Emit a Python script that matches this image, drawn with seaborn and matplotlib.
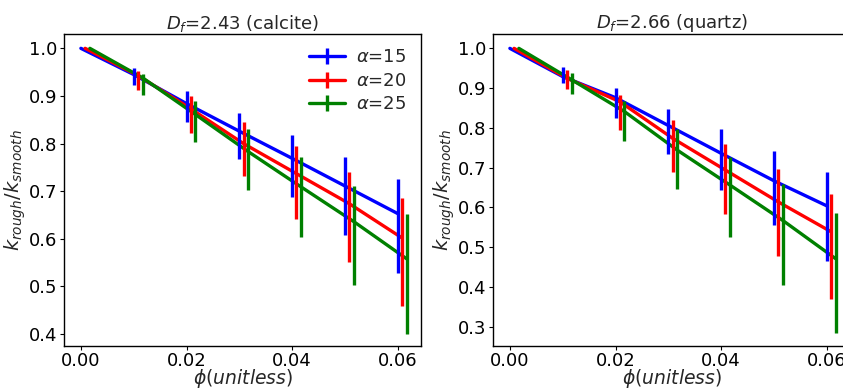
import numpy as np
import pandas as pd
import matplotlib
matplotlib.use("Agg")
import matplotlib.pyplot as plt
import seaborn as sns
from matplotlib.lines import Line2D

sns.set_style("ticks")
plt.rcParams['font.family'] = ['DejaVu Sans']
plt.rcParams['mathtext.fontset'] = 'dejavusans'

phi = [0.0, 0.01, 0.02, 0.03, 0.04, 0.05, 0.06]
alphas = [15, 20, 25]
offsets = [0.0, 0.0008, 0.0017]
colors = ['#0000ff', '#ff0000', '#008000']

# calcite (D_f = 2.43)
calc_line = {
    15: [1.0, 0.945, 0.884, 0.826, 0.769, 0.711, 0.653],
    20: [1.0, 0.943, 0.873, 0.800, 0.737, 0.674, 0.602],
    25: [1.0, 0.938, 0.861, 0.783, 0.709, 0.636, 0.558],
}
calc_hi = {
    15: [1.0, 0.958, 0.911, 0.865, 0.819, 0.772, 0.725],
    20: [1.0, 0.952, 0.900, 0.846, 0.794, 0.740, 0.686],
    25: [1.0, 0.946, 0.889, 0.831, 0.771, 0.711, 0.653],
}
calc_lo = {
    15: [1.0, 0.924, 0.845, 0.767, 0.687, 0.609, 0.529],
    20: [1.0, 0.912, 0.823, 0.732, 0.642, 0.552, 0.460],
    25: [1.0, 0.903, 0.804, 0.703, 0.603, 0.503, 0.401],
}

# quartz (D_f = 2.66)
quar_line = {
    15: [1.0, 0.929, 0.876, 0.806, 0.736, 0.667, 0.604],
    20: [1.0, 0.925, 0.866, 0.774, 0.694, 0.614, 0.539],
    25: [1.0, 0.921, 0.841, 0.744, 0.656, 0.567, 0.471],
}
quar_hi = {
    15: [1.0, 0.953, 0.901, 0.848, 0.796, 0.743, 0.689],
    20: [1.0, 0.945, 0.883, 0.821, 0.759, 0.697, 0.635],
    25: [1.0, 0.938, 0.868, 0.798, 0.728, 0.659, 0.587],
}
quar_lo = {
    15: [1.0, 0.914, 0.826, 0.735, 0.645, 0.556, 0.466],
    20: [1.0, 0.899, 0.795, 0.688, 0.584, 0.477, 0.370],
    25: [1.0, 0.885, 0.766, 0.647, 0.526, 0.405, 0.285],
}

titles = [r'$D_f$=2.43 (calcite)', r'$D_f$=2.66 (quartz)']
legend_labels = [r'$\alpha$=15', r'$\alpha$=20', r'$\alpha$=25']

fig = plt.figure(figsize=(8.43, 3.89), dpi=100)
ax1 = fig.add_axes([0.0759, 0.1105, 0.4235, 0.802])
ax2 = fig.add_axes([0.5848, 0.1105, 0.4235, 0.802])

panels = [(ax1, calc_line, calc_lo, calc_hi, (0.375, 1.03), [0.4, 0.5, 0.6, 0.7, 0.8, 0.9, 1.0]),
          (ax2, quar_line, quar_lo, quar_hi, (0.2515, 1.036), [0.3, 0.4, 0.5, 0.6, 0.7, 0.8, 0.9, 1.0])]

LW = 2.4
for i, (ax, line, lo, hi, ylim, yt) in enumerate(panels):
    rows = []
    for a, off in zip(alphas, offsets):
        for p, v in zip(phi, line[a]):
            rows.append({'phi': p + off, 'k': v, 'alpha': a})
    df = pd.DataFrame(rows)
    sns.lineplot(data=df, x='phi', y='k', hue='alpha', palette=colors,
                 linewidth=LW, legend=False, ax=ax, estimator=None, sort=False)
    for a, off, c in zip(alphas, offsets, colors):
        x = np.array(phi) + off
        y = np.array(line[a])
        lower = y - np.array(lo[a])
        upper = np.array(hi[a]) - y
        ax.errorbar(x[1:], y[1:], yerr=[lower[1:], upper[1:]], fmt='none',
                    ecolor=c, elinewidth=LW, capsize=0)
    ax.set_xlim(-0.0032, 0.0644)
    ax.set_ylim(*ylim)
    ax.set_xticks([0.0, 0.02, 0.04, 0.06])
    ax.set_yticks(yt)
    ax.set_xticklabels(['0.00', '0.02', '0.04', '0.06'])
    ax.set_yticklabels([f'{t:.1f}' for t in yt])
    ax.tick_params(labelsize=13, direction='out', length=3, width=0.8,
                   pad=1.5, colors='black')
    for s in ax.spines.values():
        s.set_color('black')
        s.set_linewidth(1.0)
    ax.set_title(titles[i], fontsize=13, pad=2)
    ax.set_xlabel(r'$\phi (unitless)$', fontsize=13.5, labelpad=-2.5)
    ax.set_ylabel(r'$k_{rough}/k_{smooth}$', fontsize=14, labelpad=1)

handles = [Line2D([], [], color=c, lw=LW, marker='|', markersize=11, markeredgewidth=LW)
           for c in colors]
ax1.legend(handles, legend_labels, loc='upper right', frameon=False, fontsize=13,
           numpoints=1, handlelength=2.0, handletextpad=0.6,
           borderaxespad=0.4, labelspacing=0.3)

fig.savefig('out.png', dpi=100)
